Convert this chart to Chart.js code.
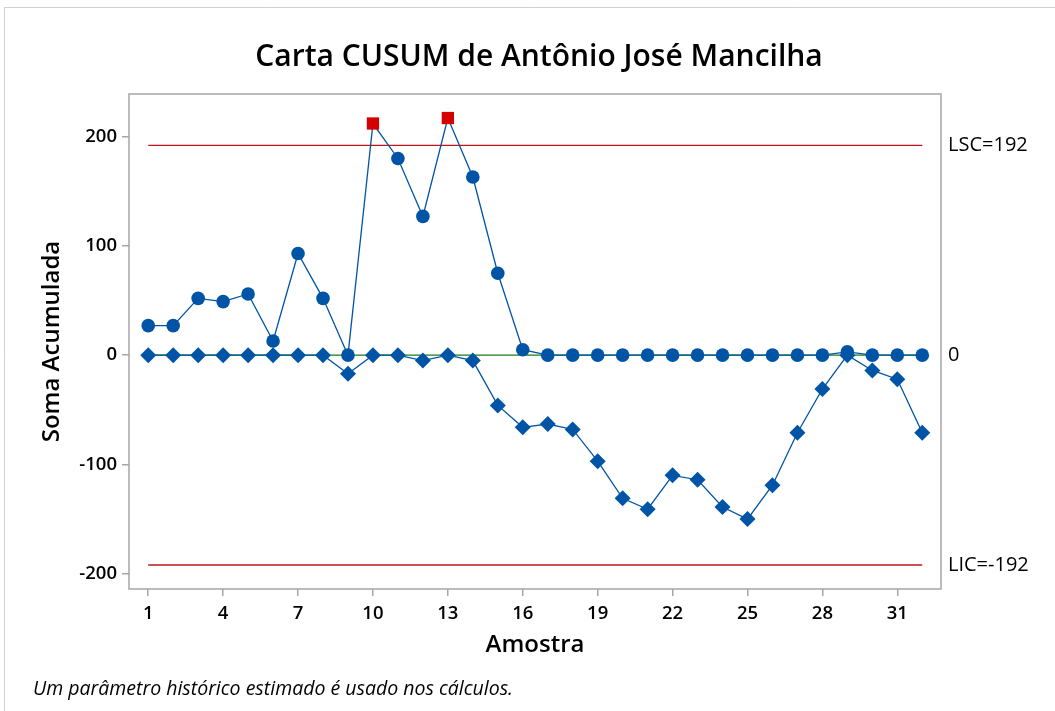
<!DOCTYPE html>
<html>
<head>
<meta charset="utf-8">
<script src="https://cdn.jsdelivr.net/npm/chart.js@4/dist/chart.umd.min.js"></script>
<style>
  html, body { margin: 0; padding: 0; background: #fff; }
  #wrap { width: 1055px; height: 711px; }
</style>
</head>
<body>
<div id="wrap"><canvas id="cusum-chart"></canvas></div>
<script>
const amostras = [1, 2, 3, 4, 5, 6, 7, 8, 9, 10, 11, 12, 13, 14, 15, 16,
  17, 18, 19, 20, 21, 22, 23, 24, 25, 26, 27, 28, 29, 30, 31, 32];
const cusumSuperior = [27, 27, 52, 49, 56, 13, 93, 52, 0, 212, 180, 127, 217, 163, 75, 5,
  0, 0, 0, 0, 0, 0, 0, 0, 0, 0, 0, 0, 3, 0, 0, 0];
const cusumInferior = [0, 0, 0, 0, 0, 0, 0, 0, -17, 0, 0, -5, 0, -5, -46, -66,
  -63, -68, -97, -131, -141, -110, -114, -139, -150, -119, -71, -31, 0, -14, -22, -71];
const xTicks = [1, 4, 7, 10, 13, 16, 19, 22, 25, 28, 31];
const yTicks = [-200, -100, 0, 100, 200];
const LSC = 192;
const LIC = -192;
const CENTRO = 0;
const limites = [LSC, CENTRO, LIC];
const limiteLabels = ['LSC=192', '0', 'LIC=-192'];

const FONTE = '"Open Sans", "Noto Sans", sans-serif';
const AZUL = '#0054A6';
const VERMELHO = '#C0141C';
const CINZA = '#A6A6A6';

const pontos = (ys) => amostras.map((a, i) => ({ x: a, y: ys[i] }));
const linha = (v) => [{ x: amostras[0], y: v }, { x: amostras[amostras.length - 1], y: v }];
const foraDeControle = (ctx) => ctx.raw && (ctx.raw.y > LSC || ctx.raw.y < LIC);

// moldura da área do gráfico e borda externa
const moldura = {
  id: 'moldura',
  beforeDraw(chart) {
    const c = chart.ctx;
    c.save();
    c.fillStyle = '#fff';
    c.fillRect(0, 0, chart.width, chart.height);
    c.strokeStyle = '#D0D0D0';
    c.lineWidth = 1;
    c.beginPath();
    c.moveTo(4.5, chart.height);
    c.lineTo(4.5, 7.5);
    c.lineTo(chart.width, 7.5);
    c.stroke();
    c.restore();
  },
  beforeDatasetsDraw(chart) {
    const a = chart.chartArea;
    const c = chart.ctx;
    c.save();
    c.strokeStyle = CINZA;
    c.lineWidth = 1.5;
    c.strokeRect(a.left, a.top, a.right - a.left, a.bottom - a.top);
    c.restore();
  }
};

const chartElement = document.getElementById('cusum-chart');
new Chart(chartElement, {
  type: 'line',
  data: {
    datasets: [
      {
        label: 'CUSUM superior',
        data: pontos(cusumSuperior),
        borderColor: AZUL,
        borderWidth: 1.3,
        pointStyle: (ctx) => foraDeControle(ctx) ? 'rect' : 'circle',
        pointRadius: (ctx) => foraDeControle(ctx) ? 8.7 : 6.8,
        pointBackgroundColor: (ctx) => foraDeControle(ctx) ? '#D40000' : AZUL,
        pointBorderColor: (ctx) => foraDeControle(ctx) ? '#D40000' : AZUL,
        pointBorderWidth: 0,
        tension: 0,
        order: 1,
      },
      {
        label: 'CUSUM inferior',
        data: pontos(cusumInferior),
        borderColor: AZUL,
        borderWidth: 1.3,
        pointStyle: 'rectRot',
        pointRadius: 8,
        pointBackgroundColor: AZUL,
        pointBorderColor: AZUL,
        pointBorderWidth: 0,
        tension: 0,
        order: 2,
      },
      {
        label: 'Centro',
        data: linha(CENTRO),
        borderColor: '#1A7A1A',
        borderWidth: 1.4,
        pointRadius: 0,
        order: 5,
      },
      {
        label: 'LSC',
        data: linha(LSC),
        borderColor: VERMELHO,
        borderWidth: 1.4,
        pointRadius: 0,
        order: 4,
      },
      {
        label: 'LIC',
        data: linha(LIC),
        borderColor: VERMELHO,
        borderWidth: 1.4,
        pointRadius: 0,
        order: 4,
      },
    ],
  },
  options: {
    responsive: true,
    maintainAspectRatio: false,
    animation: false,
    layout: { padding: { left: 33, right: 10, top: 0, bottom: 0 } },
    plugins: {
      legend: { display: false },
      tooltip: { enabled: false },
      title: {
        display: true,
        text: 'Carta CUSUM de Antônio José Mancilha',
        color: '#000',
        font: { family: FONTE, size: 30, weight: '600' },
        padding: { top: 39, bottom: 19 },
      },
      subtitle: {
        display: true,
        position: 'bottom',
        align: 'start',
        text: 'Um parâmetro histórico estimado é usado nos cálculos.',
        color: '#000',
        font: { family: FONTE, size: 19.5, style: 'italic' },
        padding: { top: 0, bottom: 10 },
      },
    },
    scales: {
      x: {
        type: 'linear',
        min: 0.23,
        max: 32.75,
        afterBuildTicks: (scale) => { scale.ticks = xTicks.map(v => ({ value: v })); },
        afterFit: (scale) => { scale.height = 88.6; },
        border: { display: false },
        grid: { drawOnChartArea: false, tickLength: 7, color: CINZA, lineWidth: 1.5 },
        ticks: { color: '#000', padding: 7, font: { family: FONTE, size: 18.5, weight: '600' } },
        title: {
          display: true,
          text: 'Amostra',
          color: '#000',
          font: { family: FONTE, size: 24, weight: '600' },
          padding: { top: 0, bottom: 18.2 },
        },
      },
      y: {
        position: 'left',
        min: -214,
        max: 239,
        afterBuildTicks: (scale) => { scale.ticks = yTicks.map(v => ({ value: v })); },
        afterFit: (scale) => { scale.width = 96; },
        border: { display: false },
        grid: { drawOnChartArea: false, tickLength: 7, color: CINZA, lineWidth: 1.5 },
        ticks: { color: '#000', padding: 5, font: { family: FONTE, size: 18.5, weight: '600' } },
        title: {
          display: true,
          text: 'Soma Acumulada',
          color: '#000',
          font: { family: FONTE, size: 24, weight: '600' },
          padding: { top: 4.6, bottom: 0 },
        },
      },
      y2: {
        position: 'right',
        min: -214,
        max: 239,
        afterBuildTicks: (scale) => { scale.ticks = limites.map(v => ({ value: v })); },
        afterFit: (scale) => { scale.width = 104; },
        border: { display: false },
        grid: { display: false, drawTicks: false },
        ticks: {
          color: '#000',
          padding: 7,
          font: { family: FONTE, size: 20 },
          callback: (v, i) => limiteLabels[i],
        },
      },
    },
  },
  plugins: [moldura],
});
</script>
</body>
</html>
